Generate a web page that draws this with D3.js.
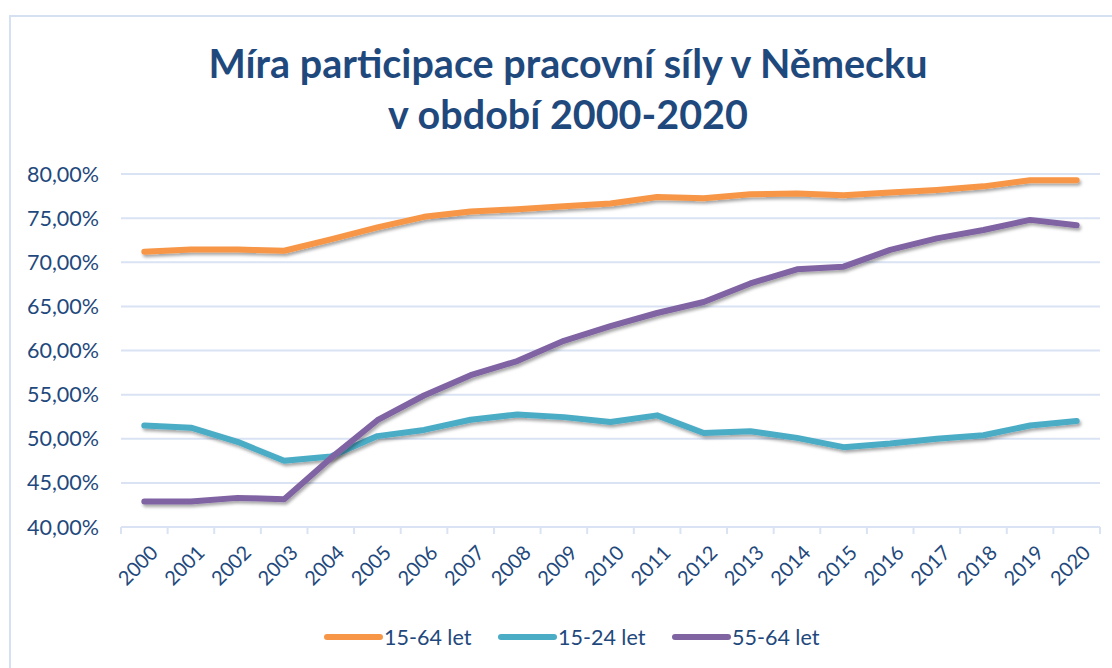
<!DOCTYPE html>
<html>
<head>
<meta charset="utf-8">
<script src="https://cdn.jsdelivr.net/npm/d3@7"></script>
<style>
  body { margin:0; background:#fff; }
  svg text { font-family: Lato, "Open Sans", sans-serif; fill:#1F497D; }
</style>
</head>
<body>
<svg id="chart" width="1112" height="668"></svg>
<script>
// data
var years = ["2000","2001","2002","2003","2004","2005","2006","2007","2008","2009","2010",
             "2011","2012","2013","2014","2015","2016","2017","2018","2019","2020"];
var age1564 = [71.2,71.45,71.45,71.3,72.6,73.95,75.15,75.75,76.0,76.35,76.65,77.4,77.25,77.7,77.8,77.6,77.9,78.2,78.6,79.3,79.3];
var age1524 = [51.5,51.25,49.65,47.5,48.0,50.3,51.0,52.15,52.75,52.45,51.9,52.65,50.65,50.85,50.1,49.05,49.45,50.0,50.4,51.5,52.0];
var age5564 = [42.9,42.9,43.3,43.15,47.8,52.1,54.9,57.2,58.8,61.1,62.75,64.25,65.5,67.6,69.2,69.5,71.4,72.7,73.65,74.8,74.2];
var seriesNames = ["15-64 let","15-24 let","55-64 let"];
var seriesColors = ["#F79646","#4BACC6","#8064A2"];
var yTicks = [40,45,50,55,60,65,70,75,80];

var svg = d3.select("#chart");

// outer frame
svg.append("rect").attr("x",10).attr("y",16).attr("width",1120).attr("height",700)
   .attr("fill","none").attr("stroke","#D5E1F2").attr("stroke-width",2);

// drop shadow for lines
var defs = svg.append("defs");
var f = defs.append("filter").attr("id","shadow").attr("x","-5%").attr("y","-20%").attr("width","110%").attr("height","140%");
f.append("feDropShadow").attr("dx",1.5).attr("dy",2.5).attr("stdDeviation",1.8)
 .attr("flood-color","#000").attr("flood-opacity",0.35);

// title
var title = svg.append("text").attr("text-anchor","middle")
   .style("font-size","39.5px").style("font-weight","bold");
title.append("tspan").attr("x",568).attr("y",78).text("Míra participace pracovní síly v Německu");
title.append("tspan").attr("x",568).attr("y",129).text("v období 2000-2020");

var x = d3.scaleBand().domain(years).range([121,1100]);
var y = d3.scaleLinear().domain([40,80]).range([527,174]);

// gridlines
svg.append("g").selectAll("line").data(yTicks.slice(1)).enter().append("line")
   .attr("x1",121).attr("x2",1100)
   .attr("y1",function(d){return y(d);}).attr("y2",function(d){return y(d);})
   .attr("stroke","#D9E3F4").attr("stroke-width",2);

// y labels
svg.append("g").selectAll("text").data(yTicks).enter().append("text")
   .attr("x",99).attr("y",function(d){return y(d)+7.5;})
   .attr("text-anchor","end").style("font-size","21.5px")
   .text(function(d){return d3.format(".2f")(d).replace(".",",")+"%";});

// x axis line + ticks
var xa = svg.append("g");
xa.append("line").attr("x1",121).attr("x2",1100).attr("y1",527).attr("y2",527)
  .attr("stroke","#D9E3F4").attr("stroke-width",2);
xa.selectAll("line.tick").data(years.concat(["end"])).enter().append("line")
  .attr("class","tick")
  .attr("x1",function(d,i){return 121+i*x.step();})
  .attr("x2",function(d,i){return 121+i*x.step();})
  .attr("y1",527).attr("y2",534)
  .attr("stroke","#D9E3F4").attr("stroke-width",2);
xa.selectAll("text").data(years).enter().append("text")
  .attr("transform",function(d){return "translate("+(x(d)+x.bandwidth()/2+10)+",549) rotate(-45)";})
  .attr("text-anchor","end").attr("dy","0.35em").style("font-size","20px")
  .text(function(d){return d;});

// lines
var seriesData = [age1564, age1524, age5564];
var line = d3.line()
   .x(function(d,i){return x(years[i])+x.bandwidth()/2;})
   .y(function(d){return y(d);});
svg.append("g").selectAll("path").data(seriesData).enter().append("path")
   .attr("d",line).attr("fill","none")
   .attr("stroke",function(d,i){return seriesColors[i];})
   .attr("stroke-width",6).attr("stroke-linecap","round").attr("stroke-linejoin","round")
   .attr("filter","url(#shadow)");

// legend
var legX = [325,499,673];
var leg = svg.append("g").selectAll("g").data(seriesNames).enter().append("g")
   .attr("transform",function(d,i){return "translate("+legX[i]+",637)";});
leg.append("line").attr("x1",2).attr("x2",55).attr("y1",0).attr("y2",0)
   .attr("stroke",function(d,i){return seriesColors[i];})
   .attr("stroke-width",6).attr("stroke-linecap","round");
leg.append("text").attr("x",59).attr("y",7.5).style("font-size","21.5px")
   .text(function(d){return d;});
</script>
</body>
</html>
